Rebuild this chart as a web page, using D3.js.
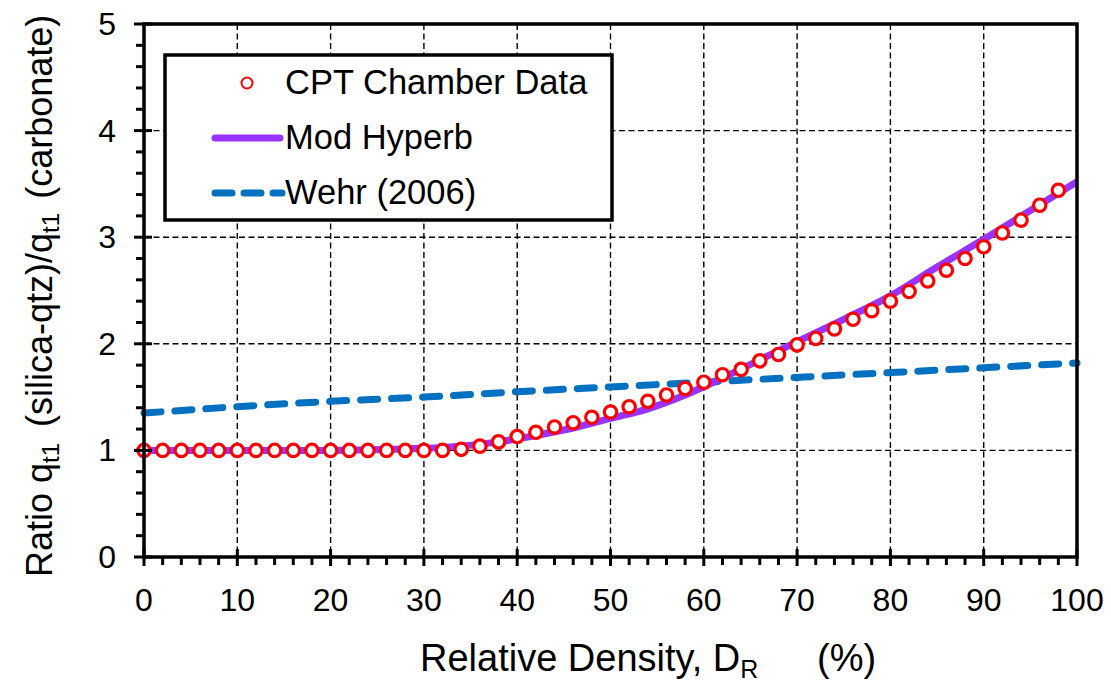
<!DOCTYPE html>
<html>
<head>
<meta charset="utf-8">
<script src="https://cdn.jsdelivr.net/npm/d3@7"></script>
<style>
  html, body { margin: 0; padding: 0; background: #fff; }
  svg { display: block; font-family: "Liberation Sans", Arial, sans-serif; }
</style>
</head>
<body>
<svg id="chart" width="1111" height="686"></svg>
<script>
// Relative density (%) of the chamber tests and the measured qt1 ratio
const cptDensity = [0, 2, 4, 6, 8, 10, 12, 14, 16, 18, 20, 22, 24, 26, 28, 30, 32,
  34, 36, 38, 40, 42, 44, 46, 48, 50, 52, 54, 56, 58, 60, 62, 64, 66, 68, 70,
  72, 74, 76, 78, 80, 82, 84, 86, 88, 90, 92, 94, 96, 98];
const cptRatio = [1.0, 1.0, 1.0, 1.0, 1.0, 1.0, 1.0, 1.0, 1.0, 1.0, 1.0, 1.0, 1.0, 1.0, 1.0, 1.0, 1.0,
  1.01, 1.04, 1.08, 1.13, 1.17, 1.22, 1.26, 1.31, 1.36, 1.41, 1.46, 1.52, 1.58, 1.64, 1.71, 1.76, 1.84, 1.90, 1.99,
  2.05, 2.14, 2.23, 2.31, 2.40, 2.49, 2.59, 2.69, 2.80, 2.91, 3.04, 3.16, 3.30, 3.44];

// Modified hyperbolic fit
const hyperbDensity = [0, 10, 20, 30, 34, 38, 42, 46, 50, 54, 58, 62, 66, 70, 75, 80, 85, 90, 95, 100];
const hyperbRatio = [1.0, 1.0, 1.0, 1.02, 1.04, 1.08, 1.14, 1.21, 1.30, 1.39, 1.52, 1.68, 1.85, 2.02, 2.23, 2.45, 2.72, 2.98, 3.25, 3.52];

// Wehr (2006) relation
const wehrDensity = [0, 10, 20, 30, 40, 50, 60, 70, 80, 90, 100];
const wehrRatio = [1.35, 1.41, 1.46, 1.50, 1.55, 1.595, 1.64, 1.685, 1.73, 1.775, 1.82];

const xMajorTicks = [0, 10, 20, 30, 40, 50, 60, 70, 80, 90, 100];
const yMajorTicks = [0, 1, 2, 3, 4, 5];

const seriesNames = ["CPT Chamber Data", "Mod Hyperb", "Wehr (2006)"];

const svg = d3.select("#chart");
const plotL = 144, plotR = 1077, plotT = 24, plotB = 557;

const x = d3.scaleLinear().domain([0, 100]).range([plotL, plotR]);
const y = d3.scaleLinear().domain([0, 5]).range([plotB, plotT]);

const xMinor = d3.range(0, 100.001, 2).filter(v => v % 10 !== 0);
const yMinor = d3.range(0, 5.001, 0.2).map(v => +v.toFixed(1)).filter(v => Math.abs(v - Math.round(v)) > 1e-6);

// grid
const grid = svg.append("g").attr("stroke", "#000").attr("stroke-width", 1.4).attr("stroke-dasharray", "6,3.5");
grid.selectAll(".gx").data(xMajorTicks.filter(v => v > 0 && v < 100)).join("line")
  .attr("x1", d => x(d)).attr("x2", d => x(d)).attr("y1", plotT).attr("y2", plotB);
grid.selectAll(".gy").data(yMajorTicks.filter(v => v > 0 && v < 5)).join("line")
  .attr("y1", d => y(d)).attr("y2", d => y(d)).attr("x1", plotL).attr("x2", plotR);

// Wehr (2006)
const wehrLine = d3.line().x((d, i) => x(wehrDensity[i])).y(d => y(d)).curve(d3.curveMonotoneX);
svg.append("path").attr("d", wehrLine(wehrRatio))
  .attr("fill", "none").attr("stroke", "#0070C0").attr("stroke-width", 7)
  .attr("stroke-linecap", "round").attr("stroke-dasharray", "17,14");

// Mod Hyperb
const hypLine = d3.line().x((d, i) => x(hyperbDensity[i])).y(d => y(d)).curve(d3.curveCatmullRom);
svg.append("path").attr("d", hypLine(hyperbRatio))
  .attr("fill", "none").attr("stroke", "#9933FF").attr("stroke-width", 7)
  .attr("stroke-linejoin", "round");

// chamber data
svg.append("g").selectAll("circle").data(cptRatio).join("circle")
  .attr("cx", (d, i) => x(cptDensity[i])).attr("cy", d => y(d)).attr("r", 6.2)
  .attr("fill", "#fff").attr("stroke", "#FF0000").attr("stroke-width", 3.2);

// frame
svg.append("rect").attr("x", plotL).attr("y", plotT).attr("width", plotR - plotL).attr("height", plotB - plotT)
  .attr("fill", "none").attr("stroke", "#000").attr("stroke-width", 3.5);

// ticks
const tk = svg.append("g").attr("stroke", "#000").attr("stroke-width", 3);
tk.selectAll(".xm").data(xMajorTicks).join("line")
  .attr("x1", d => x(d)).attr("x2", d => x(d)).attr("y1", plotB - 8).attr("y2", plotB + 9);
tk.selectAll(".xn").data(xMinor).join("line")
  .attr("x1", d => x(d)).attr("x2", d => x(d)).attr("y1", plotB).attr("y2", plotB + 8);
tk.selectAll(".ym").data(yMajorTicks).join("line")
  .attr("y1", d => y(d)).attr("y2", d => y(d)).attr("x1", plotL - 10).attr("x2", plotL + 8);
tk.selectAll(".yn").data(yMinor).join("line")
  .attr("y1", d => y(d)).attr("y2", d => y(d)).attr("x1", plotL - 8).attr("x2", plotL);

// tick labels
svg.append("g").selectAll("text").data(xMajorTicks).join("text")
  .attr("x", d => x(d)).attr("y", 611).attr("text-anchor", "middle")
  .attr("font-size", 32).text(d => d);
svg.append("g").selectAll("text").data(yMajorTicks).join("text")
  .attr("x", 116).attr("y", d => y(d) + 11).attr("text-anchor", "end")
  .attr("font-size", 32).text(d => d);

// axis titles
const xt = svg.append("text").attr("x", 420).attr("y", 671).attr("font-size", 38);
xt.append("tspan").text("Relative Density, D");
xt.append("tspan").attr("font-size", 25).attr("dy", 7).text("R");
xt.append("tspan").attr("x", 817).attr("dy", -7).text("(%)");

const yt = svg.append("text").attr("transform", "translate(52,577) rotate(-90)")
  .attr("font-size", 36);
yt.append("tspan").text("Ratio q");
yt.append("tspan").attr("font-size", 24).attr("dy", 7).text("t1");
yt.append("tspan").attr("dy", -7).attr("dx", 16).text("(silica-qtz)/q");
yt.append("tspan").attr("font-size", 24).attr("dy", 7).text("t1");
yt.append("tspan").attr("dy", -7).attr("dx", 14).text("(carbonate)");

// legend
const lg = svg.append("g");
lg.append("rect").attr("x", 165).attr("y", 55).attr("width", 612 - 165).attr("height", 220 - 55)
  .attr("fill", "#fff").attr("stroke", "#000").attr("stroke-width", 3.5);
const rows = [94, 149, 204];
lg.append("circle").attr("cx", 247).attr("cy", 83).attr("r", 5.5)
  .attr("fill", "#fff").attr("stroke", "#FF0000").attr("stroke-width", 2);
lg.append("line").attr("x1", 215).attr("x2", 280).attr("y1", 138).attr("y2", 138)
  .attr("stroke", "#9933FF").attr("stroke-width", 7).attr("stroke-linecap", "round");
lg.append("line").attr("x1", 215).attr("x2", 282).attr("y1", 193).attr("y2", 193)
  .attr("stroke", "#0070C0").attr("stroke-width", 7).attr("stroke-linecap", "round")
  .attr("stroke-dasharray", "17,12");
lg.selectAll(".lt").data(seriesNames).join("text")
  .attr("x", 285).attr("y", (d, i) => rows[i]).attr("font-size", 34.5).text(d => d);
</script>
</body>
</html>
